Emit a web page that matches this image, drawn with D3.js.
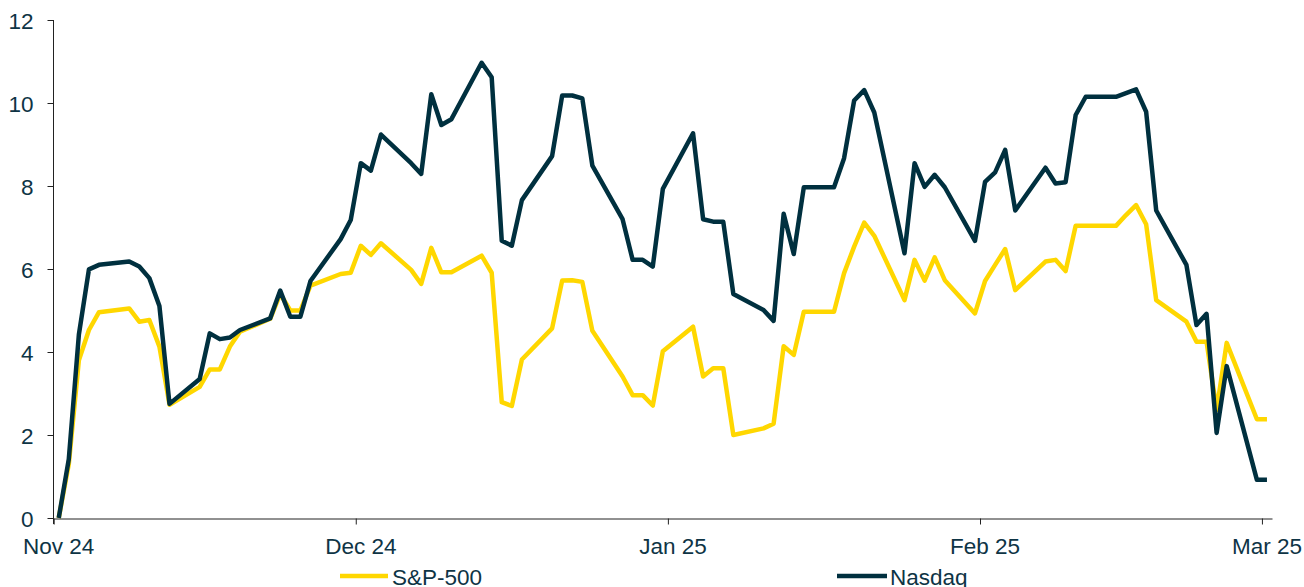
<!DOCTYPE html>
<html>
<head>
<meta charset="utf-8">
<script src="https://cdn.jsdelivr.net/npm/d3@7/dist/d3.min.js"></script>
<style>
  html, body { margin: 0; padding: 0; background: #ffffff; }
  svg { display: block; font-family: "Liberation Sans", Arial, sans-serif; }
</style>
</head>
<body>
<svg id="chart" width="1304" height="587"></svg>
<script>
// ---- Data ----
const dates = [
  "2024-11-01","2024-11-02","2024-11-03","2024-11-04","2024-11-05",
  "2024-11-08","2024-11-09","2024-11-10","2024-11-11","2024-11-12",
  "2024-11-15","2024-11-16","2024-11-17","2024-11-18","2024-11-19",
  "2024-11-22","2024-11-23","2024-11-24","2024-11-25","2024-11-26",
  "2024-11-29","2024-11-30","2024-12-01","2024-12-02","2024-12-03",
  "2024-12-06","2024-12-07","2024-12-08","2024-12-09","2024-12-10",
  "2024-12-13","2024-12-14","2024-12-15","2024-12-16","2024-12-17",
  "2024-12-20","2024-12-21","2024-12-22","2024-12-23","2024-12-24",
  "2024-12-27","2024-12-28","2024-12-29","2024-12-30","2024-12-31",
  "2025-01-03","2025-01-04","2025-01-05","2025-01-06","2025-01-07",
  "2025-01-10","2025-01-11","2025-01-12","2025-01-13","2025-01-14",
  "2025-01-17","2025-01-18","2025-01-19","2025-01-20","2025-01-21",
  "2025-01-24","2025-01-25","2025-01-26","2025-01-27","2025-01-28",
  "2025-01-31","2025-02-01","2025-02-02","2025-02-03","2025-02-04",
  "2025-02-07","2025-02-08","2025-02-09","2025-02-10","2025-02-11",
  "2025-02-14","2025-02-15","2025-02-16","2025-02-17","2025-02-18",
  "2025-02-21","2025-02-22","2025-02-23","2025-02-24","2025-02-25",
  "2025-02-28","2025-03-01"
];
const sp500 = [
  0.00, 1.30, 3.80, 4.53, 4.96,
  5.05, 4.73, 4.77, 4.13, 2.73,
  3.16, 3.58, 3.58, 4.13, 4.49,
  4.80, 5.40, 5.00, 5.00, 5.60,
  5.88, 5.91, 6.56, 6.34, 6.62,
  5.98, 5.64, 6.51, 5.92, 5.92,
  6.32, 5.91, 2.79, 2.70, 3.82,
  4.57, 5.72, 5.73, 5.69, 4.51,
  3.41, 2.96, 2.96, 2.71, 4.02,
  4.61, 3.41, 3.61, 3.61, 2.00,
  2.16, 2.27, 4.14, 3.93, 4.97,
  4.97, 5.90, 6.54, 7.12, 6.80,
  5.25, 6.22, 5.72, 6.28, 5.73,
  4.93, 5.71, 6.10, 6.48, 5.49,
  6.18, 6.22, 5.95, 7.04, 7.04,
  7.04, 7.30, 7.54, 7.08, 5.25,
  4.73, 4.25, 4.25, 2.60, 4.22,
  2.38, 2.38
];
const nasdaq = [
  0.00, 1.42, 4.42, 5.99, 6.10,
  6.18, 6.06, 5.78, 5.11, 2.75,
  3.35, 4.45, 4.31, 4.35, 4.53,
  4.81, 5.48, 4.85, 4.85, 5.71,
  6.72, 7.18, 8.55, 8.37, 9.24,
  8.55, 8.29, 10.21, 9.47, 9.61,
  10.97, 10.62, 6.68, 6.56, 7.66,
  8.72, 10.18, 10.18, 10.11, 8.49,
  7.20, 6.22, 6.22, 6.06, 7.93,
  9.27, 7.20, 7.14, 7.14, 5.40,
  5.01, 4.75, 7.33, 6.36, 7.97,
  7.97, 8.67, 10.06, 10.31, 9.77,
  6.38, 8.55, 7.98, 8.27, 7.97,
  6.68, 8.10, 8.33, 8.87, 7.41,
  8.44, 8.06, 8.09, 9.71, 10.15,
  10.15, 10.24, 10.33, 9.79, 7.41,
  6.10, 4.65, 4.92, 2.05, 3.66,
  0.92, 0.92
];
const yTicks = [0, 2, 4, 6, 8, 10, 12];
const monthTicks = ["2024-11-01","2024-12-01","2025-01-01","2025-02-01","2025-03-01"];
const monthLabels = ["Nov 24","Dec 24","Jan 25","Feb 25","Mar 25"];
const seriesNames = ["S&P-500", "Nasdaq"];
const seriesColors = ["#FFD700", "#00303F"];

// ---- Chart ----
const svg = d3.select("#chart");
const textColor = "#0E3445";
const axisColor = "#222222";
const HALF_DAY = 12 * 3600 * 1000;
const parse = d3.utcParse("%Y-%m-%d");

const x = d3.scaleUtc()
  .domain([parse("2024-11-01"), parse("2025-03-02")])
  .range([53.7, 1272]);
const y = d3.scaleLinear().domain([0, 12]).range([518, 20]);

const ptX = s => x(new Date(parse(s).getTime() + HALF_DAY));

// Y axis
const yAxis = svg.append("g").attr("transform", "translate(53.5,0)")
  .call(d3.axisLeft(y).tickValues(yTicks).tickSize(6).tickSizeOuter(0).tickPadding(14));
yAxis.select(".domain").attr("stroke", axisColor).attr("d", `M0,${y(12)}V524`);
yAxis.selectAll(".tick line").attr("stroke", axisColor);
yAxis.selectAll(".tick text")
  .attr("fill", textColor).style("font-size", "22.5px")
  .attr("font-family", "Liberation Sans, Arial, sans-serif")
  .attr("dy", "0.36em");

// X axis
const xAxis = svg.append("g").attr("transform", "translate(0,518.5)")
  .call(d3.axisBottom(x).tickValues(monthTicks.map(parse)).tickSize(6).tickSizeOuter(0).tickFormat(() => ""));
xAxis.select(".domain").attr("stroke", axisColor);
xAxis.selectAll(".tick line").attr("stroke", axisColor);

svg.append("g").selectAll("text").data(monthTicks).join("text")
  .attr("x", d => ptX(d))
  .attr("y", 554)
  .attr("text-anchor", "middle")
  .attr("fill", textColor)
  .style("font-size", "22.5px")
  .text((d, i) => monthLabels[i]);

// Lines
const line = d3.line()
  .x(d => ptX(d.date))
  .y(d => y(d.v));

[sp500, nasdaq].forEach((vals, si) => {
  const pts = dates.map((d, i) => ({ date: d, v: vals[i] }));
  svg.append("path")
    .datum(pts)
    .attr("fill", "none")
    .attr("stroke", seriesColors[si])
    .attr("stroke-width", 4.5)
    .attr("stroke-linejoin", "round")
    .attr("d", line);
});

// Legend
const legendPos = [{ x1: 340, x2: 388, tx: 392 }, { x1: 837, x2: 887, tx: 890 }];
seriesNames.forEach((name, i) => {
  const p = legendPos[i];
  svg.append("line")
    .attr("x1", p.x1).attr("x2", p.x2)
    .attr("y1", 576).attr("y2", 576)
    .attr("stroke", seriesColors[i]).attr("stroke-width", 4.5);
  svg.append("text")
    .attr("x", p.tx).attr("y", 584.5)
    .attr("fill", textColor)
    .style("font-size", "22.5px")
    .text(name);
});
</script>
</body>
</html>
